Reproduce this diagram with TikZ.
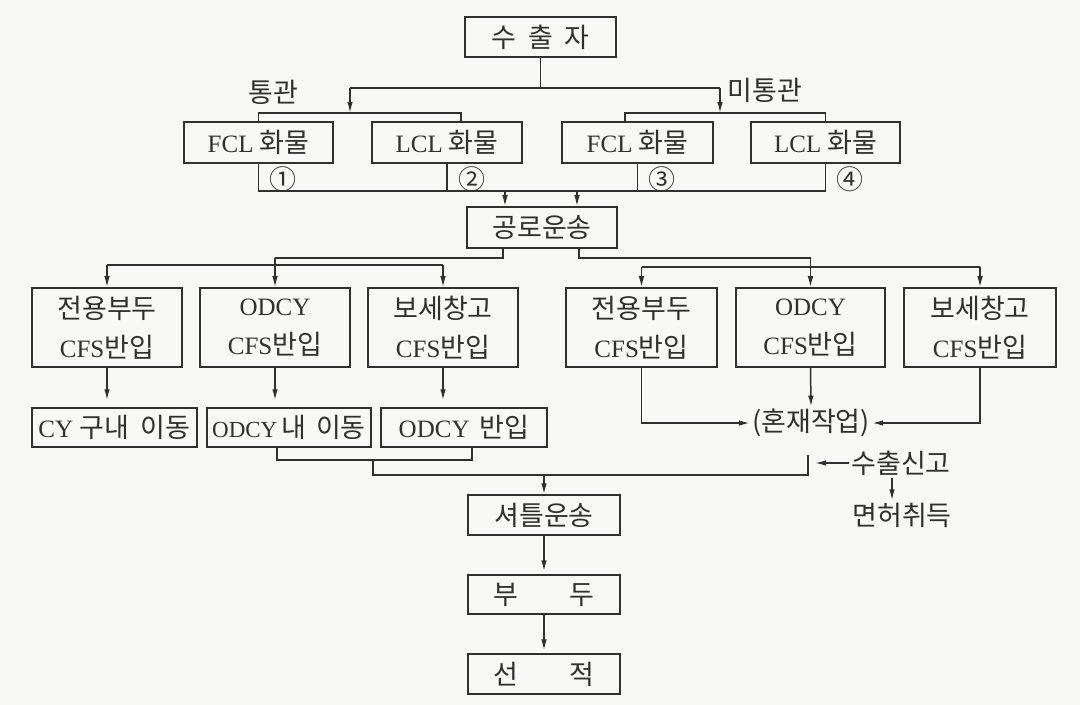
\documentclass[tikz,border=0pt]{standalone}
\usepackage{fontspec}
\setmainfont{Liberation Serif}
\newfontfamily\krfont[Scale=1.08]{Noto Sans CJK KR}
\newcommand\K[1]{{\krfont #1}}
\usetikzlibrary{arrows.meta}
\definecolor{ink}{RGB}{48,48,48}
\definecolor{paper}{RGB}{248,248,247}
\begin{document}
\begin{tikzpicture}[x=0.5pt,y=-0.5pt,
  every node/.style={font=\fontsize{12.5}{19.5}\selectfont, text=ink},
  box/.style={draw=ink, line width=0.75pt, rectangle, inner sep=0pt, minimum height=20pt, align=center},
  line/.style={draw=ink, line width=0.75pt},
  arr/.style={line, -{Latex[length=5.5pt,width=2.8pt]}},
  lab/.style={inner sep=1pt}
]
\fill[paper] (0,0) rectangle (1080,705);
\useasboundingbox (0,0) rectangle (1080,705);

% ---- row 0
\node[box, minimum width=75.5pt] (ex) at (540.5,37) {\K{수\hspace{6pt}출\hspace{6pt}자}};

% ---- row 1
\node[box, minimum width=74.5pt, minimum height=20.5pt] (f1) at (258.5,142.5) {FCL\hspace{3pt}\K{화물}};
\node[box, minimum width=75pt,   minimum height=20.5pt] (l1) at (447,142.5) {LCL\hspace{3pt}\K{화물}};
\node[box, minimum width=75.5pt, minimum height=20.5pt] (f2) at (637.5,142.5) {FCL\hspace{3pt}\K{화물}};
\node[box, minimum width=74.5pt, minimum height=20.5pt] (l2) at (825.5,142.5) {LCL\hspace{3pt}\K{화물}};

\node[lab] (tg) at (273,92) {\K{통관}};
\node[lab, anchor=west] (mtg) at (725,90) {\K{미통관}};
\node[lab] (n1) at (283,179) {\K{①}};
\node[lab] (n2) at (472,179) {\K{②}};
\node[lab] (n3) at (662,179) {\K{③}};
\node[lab] (n4) at (850,179) {\K{④}};

% ---- row 2
\node[box, minimum width=75pt, minimum height=20.5pt] (road) at (542,227.5) {\K{공로운송}};

% ---- row 3
\node[box, minimum width=75pt, minimum height=39.5pt] (A1) at (107,327.5) {\K{전용부두}\\CFS\K{반입}};
\node[box, minimum width=75pt, minimum height=39.5pt] (A2) at (275,327.5) {ODCY\\CFS\K{반입}};
\node[box, minimum width=75pt, minimum height=39.5pt] (A3) at (443,327.5) {\K{보세창고}\\CFS\K{반입}};
\node[box, minimum width=75.5pt, minimum height=39.5pt] (B1) at (641.5,327.5) {\K{전용부두}\\CFS\K{반입}};
\node[box, minimum width=74.5pt, minimum height=39.5pt] (B2) at (810.5,327.5) {ODCY\\CFS\K{반입}};
\node[box, minimum width=76pt, minimum height=39.5pt] (B3) at (980,327.5) {\K{보세창고}\\CFS\K{반입}};

% ---- row 4
\node[box, minimum width=82.5pt, minimum height=19.5pt] (C1) at (114.5,427.5) {CY\hspace{3pt}\K{구내}\hspace{6pt}\K{이동}};
\node[box, minimum width=82pt,   minimum height=19.5pt] (C2) at (289,427.5) {{\fontsize{11.5}{14}\selectfont ODCY}\hspace{2pt}\K{내}\hspace{5pt}\K{이동}};
\node[box, minimum width=83pt,   minimum height=19.5pt] (C3) at (464,427.5) {ODCY\hspace{5pt}\K{반입}};

\node[lab] (M) at (811,423) {\K{(혼재작업)}};
\node[lab] (E) at (901,463) {\K{수출신고}};
\node[lab] (F) at (902,515) {\K{면허취득}};

% ---- bottom column
\node[box, minimum width=76pt] (S) at (544,515) {\K{셔틀운송}};
\node[box, minimum width=76pt, minimum height=19.5pt] (P) at (544,594.5) {\K{부}\hspace{26pt}\K{두}};
\node[box, minimum width=76pt] (L) at (544,674) {\K{선}\hspace{26pt}\K{적}};

% ---- connectors: exporter -> cargo
\coordinate (jl) at (350,88);
\coordinate (jr) at (720,88);
\coordinate (bl) at (350,113);
\coordinate (br) at (720,113);
\draw[line] (ex.south) -- (ex.south |- jl);
\draw[line] (jl) -- (jr);
\draw[arr] (jl) -- (bl);
\draw[arr] (jr) -- (br);
\coordinate (ka) at (461,113);
\coordinate (kb) at (625,113);
\draw[line] (f1.north) -- (f1.north |- ka) -- (ka) -- (ka |- l1.north);
\draw[line] (kb |- f2.north) -- (kb) -- (l2.north |- kb) -- (l2.north);

% ---- cargo -> road
\coordinate (hy) at (0,191);
\draw[line] (f1.south) -- (f1.south |- hy) -- (l2.south |- hy) -- (l2.south);
\draw[line] (l1.south) -- (l1.south |- hy);
\draw[line] (f2.south) -- (f2.south |- hy);
\coordinate (a1) at (505,191);
\coordinate (a2) at (577,191);
\draw[arr] (a1) -- (a1 |- road.north);
\draw[arr] (a2) -- (a2 |- road.north);

% ---- road -> row 3
\coordinate (rl) at (503,258);
\coordinate (rr) at (579,258);
\coordinate (ul) at (275,258);
\coordinate (ur) at (810.5,258);
\draw[line] (road.south -| rl) -- (rl) -- (ul);
\draw[line] (road.south -| rr) -- (rr) -- (ur);
\draw[arr] (ul) -- (A2.north);
\draw[arr] (ur) -- (B2.north);
\coordinate (gl) at (107,265);
\coordinate (gr) at (443,265);
\draw[line] (gl) -- (gr);
\draw[arr] (gl) -- (A1.north);
\draw[arr] (gr) -- (A3.north);
\coordinate (hl) at (641.5,267);
\coordinate (hr) at (980,267);
\draw[line] (hl) -- (hr);
\draw[arr] (hl) -- (B1.north);
\draw[arr] (hr) -- (B3.north);

% ---- row 3 -> row 4 (left)
\draw[arr, shorten >=3.5pt] (A1.south) -- (A1.south |- C1.north);
\draw[arr, shorten >=3.5pt] (A2.south) -- (A2.south |- C2.north);
\draw[arr, shorten >=3.5pt] (A3.south) -- (A3.south |- C3.north);

% ---- row 3 -> mix (right)
\draw[arr] (B1.south) |- (M.west);
\draw[arr] (B3.south) |- (M.east);
\draw[arr] (B2.south) -- (M.north);

% ---- row 4 -> shuttle
\coordinate (q1) at (277,460);
\coordinate (q2) at (472,460);
\draw[line] (C2.south -| q1) -- (q1) -- (q2) -- (q2 |- C3.south);
\coordinate (q3) at (373,460);
\coordinate (q4) at (373,475);
\coordinate (q5) at (808,475);
\coordinate (q6) at (808,455);
\draw[line] (q3) -- (q4) -- (q5) -- (q6);
\draw[arr] (q4 -| S.north) -- (S.north);

% ---- export declaration
\draw[arr, shorten >=3.5pt] (E.west) -- (E.west -| q6);
\coordinate (e1) at (892,0);
\draw[arr] (E.south -| e1) -- (F.north -| e1);

% ---- bottom chain
\draw[arr, shorten >=1.5pt] (S.south) -- (P.north);
\draw[arr, shorten >=1.5pt] (P.south) -- (L.north);
\end{tikzpicture}
\end{document}
